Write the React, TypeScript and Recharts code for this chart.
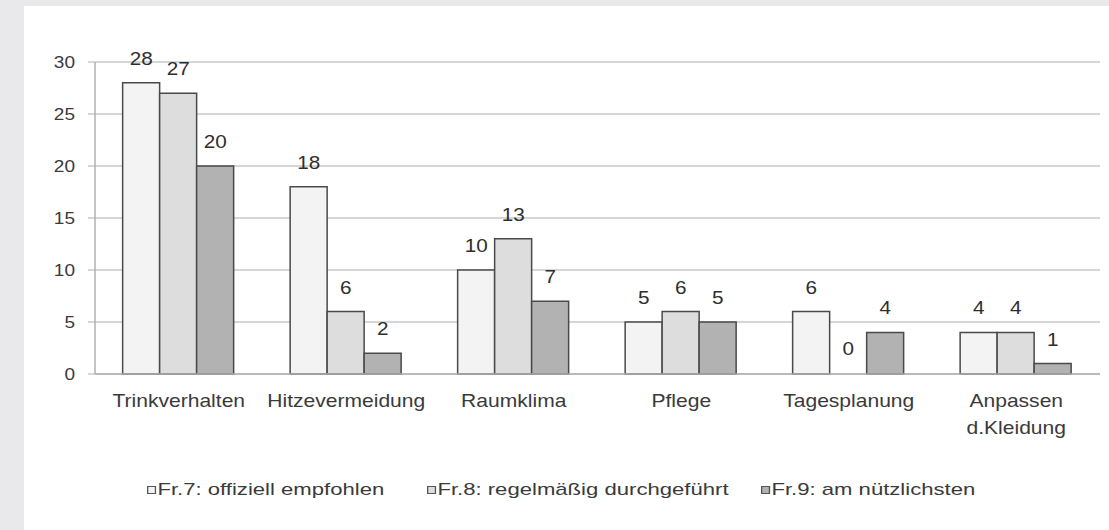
import React from "react";
import {
  BarChart,
  Bar,
  XAxis,
  YAxis,
  CartesianGrid,
  LabelList,
  Rectangle,
} from "recharts";

const categories = [
  "Trinkverhalten",
  "Hitzevermeidung",
  "Raumklima",
  "Pflege",
  "Tagesplanung",
  "Anpassen\nd.Kleidung",
];
const fr7 = [28, 18, 10, 5, 6, 4];
const fr8 = [27, 6, 13, 6, 0, 4];
const fr9 = [20, 2, 7, 5, 4, 1];
const yTicks = [0, 5, 10, 15, 20, 25, 30];
const sepTicks = [0, 1, 2, 3, 4, 5, 6];

const seriesNames = [
  "Fr.7: offiziell empfohlen",
  "Fr.8: regelmäßig durchgeführt",
  "Fr.9: am nützlichsten",
];
const fills = ["#f3f3f3", "#dddddd", "#b2b2b2"];

const data = categories.map((name, i) => ({
  name,
  idx: i + 0.5,
  fr7: fr7[i],
  fr8: fr8[i],
  fr9: fr9[i],
}));

const FONT = "'Liberation Sans', Arial, sans-serif";
const SX = 1.17;

function CategoryTick(props: any) {
  const { x, y, payload } = props;
  const lines = String(payload.value).split("\n");
  return (
    <g transform={`translate(${x},${y}) scale(${SX},1)`}>
      <text
        x={0}
        y={0}
        textAnchor="middle"
        fill="#3a3a3a"
        fontSize={18}
        fontFamily={FONT}
      >
        {lines.map((l, i) => (
          <tspan key={i} x={0} dy={i === 0 ? 25 : 27}>
            {l}
          </tspan>
        ))}
      </text>
    </g>
  );
}

function SepTick(props: any) {
  const { x, y } = props;
  return (
    <line x1={x} x2={x} y1={y - 7} y2={y - 2} stroke="#b0b0b0" strokeWidth={1.5} />
  );
}

function ValueTick(props: any) {
  const { x, y, payload } = props;
  return (
    <g transform={`translate(${x},${y}) scale(1.12,1)`}>
      <text
        x={0}
        y={0}
        dy="0.36em"
        textAnchor="end"
        fill="#3a3a3a"
        fontSize={17}
        fontFamily={FONT}
      >
        {payload.value}
      </text>
    </g>
  );
}

function BarValue(props: any) {
  const { x, y, width, value } = props;
  const cx = Number(x) + Number(width) / 2;
  return (
    <g transform={`translate(${cx},${Number(y) - 18}) scale(1.15,1)`}>
      <text
        x={0}
        y={0}
        textAnchor="middle"
        fill="#2e2e2e"
        fontSize={18}
        fontFamily={FONT}
      >
        {value}
      </text>
    </g>
  );
}

function makeShape(key: string) {
  return (props: any) =>
    props.payload && props.payload[key] === 0 ? (
      <g />
    ) : (
      <Rectangle {...props} />
    );
}

export default function App() {
  const keys = ["fr7", "fr8", "fr9"];
  const legendLeft = [123, 403, 737];
  return (
    <div
      style={{
        position: "fixed",
        left: 0,
        top: 0,
        width: 1109,
        height: 530,
        background: "#e9e9eb",
        fontFamily: FONT,
      }}
    >
      <div
        style={{
          position: "absolute",
          left: 24,
          top: 6,
          width: 1085,
          height: 524,
          background: "#ffffff",
        }}
      >
        <BarChart
          width={1085}
          height={524}
          data={data}
          margin={{ top: 56, right: 9, left: 21, bottom: 96 }}
          barCategoryGap="16.5%"
          barGap={0}
        >
          <CartesianGrid vertical={false} stroke="#d6d6d6" strokeWidth={2} />
          <XAxis
            xAxisId="sep"
            type="number"
            dataKey="idx"
            domain={[0, 6]}
            ticks={sepTicks}
            axisLine={false}
            tickLine={false}
            tickSize={5}
            tickMargin={2}
            tick={<SepTick />}
            height={0}
          />
          <XAxis
            dataKey="name"
            interval={0}
            tickLine={false}
            axisLine={{ stroke: "#b0b0b0", strokeWidth: 1.5 }}
            tick={<CategoryTick />}
            height={60}
          />
          <YAxis
            domain={[0, 30]}
            ticks={yTicks}
            width={50}
            tickSize={7}
            tickMargin={13}
            tickLine={{ stroke: "#b0b0b0" }}
            axisLine={{ stroke: "#b0b0b0", strokeWidth: 1.5 }}
            tick={<ValueTick />}
          />
          {keys.map((k, i) => (
            <Bar
              key={k}
              dataKey={k}
              fill={fills[i]}
              stroke="#4a4a4a"
              strokeWidth={1.5}
              minPointSize={1}
              shape={makeShape(k)}
              isAnimationActive={false}
            >
              <LabelList dataKey={k} content={<BarValue />} />
            </Bar>
          ))}
        </BarChart>
        {seriesNames.map((n, i) => (
          <div
            key={n}
            style={{
              position: "absolute",
              left: legendLeft[i],
              top: 474,
              display: "flex",
              alignItems: "center",
              fontSize: 17,
              color: "#3a3a3a",
              whiteSpace: "nowrap",
              transform: "scaleX(1.3)",
              transformOrigin: "left center",
            }}
          >
            <span
              style={{
                display: "inline-block",
                width: 5,
                height: 6,
                background: fills[i],
                border: "1px solid #555",
                marginRight: 1,
              }}
            />
            {n}
          </div>
        ))}
      </div>
    </div>
  );
}
